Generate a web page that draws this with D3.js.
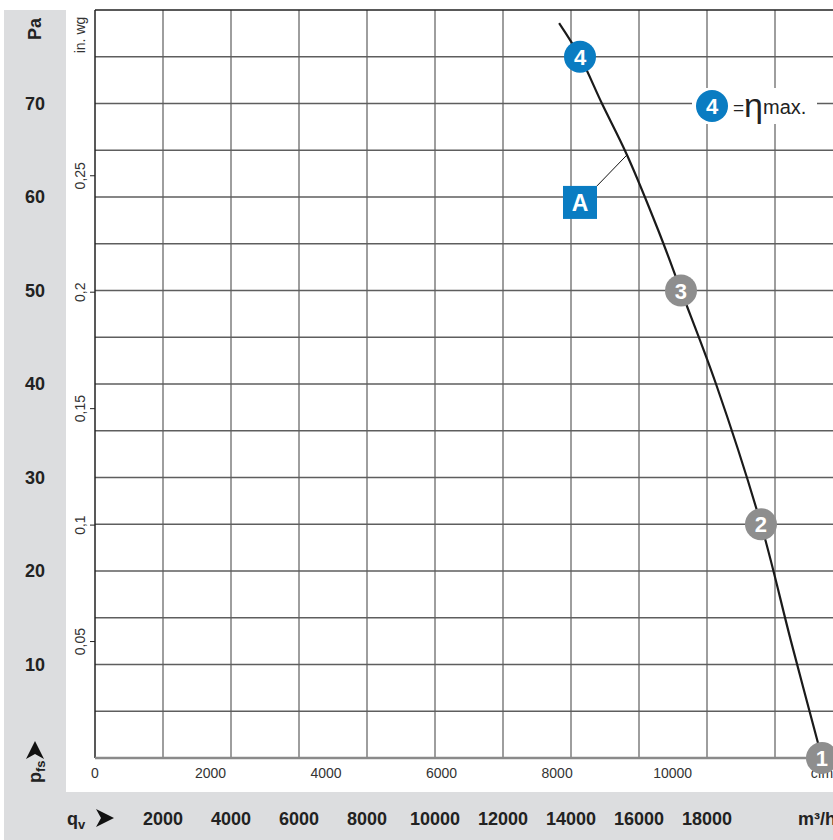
<!DOCTYPE html>
<html>
<head>
<meta charset="utf-8">
<script src="https://cdn.jsdelivr.net/npm/d3@7"></script>
<style>
  body { margin: 0; background: #fff; }
  svg { display: block; }
  text { font-family: "Liberation Sans Narrow", "Liberation Sans", Arial, sans-serif; }
</style>
</head>
<body>
<div id="chart"></div>
<script>
var svgWidth = 833;
var svgHeight = 840;

// fan curve (m³/h, Pa)
var flow = [13650, 14265, 14910, 15647, 16560, 17235, 18265, 19588, 20470, 21382];
var pressure = [78.6, 75.0, 70.0, 64.5, 56.5, 50.0, 40.0, 25.0, 12.5, 0];

// numbered operating points on the curve
var pointIds = ["4", "3", "2", "1"];
var pointFlow = [14265, 17235, 19588, 21382];
var pointPressure = [75, 50, 25, 0];

var paTicks = [10, 20, 30, 40, 50, 60, 70];
var inwgTicks = [0.05, 0.1, 0.15, 0.2, 0.25];
var cfmTicks = [0, 2000, 4000, 6000, 8000, 10000];
var m3hTicks = [2000, 4000, 6000, 8000, 10000, 12000, 14000, 16000, 18000];

var blue = "#0a7cc2";
var grey = "#8e8e8e";
var band = "#dcdddf";

var plot = { left: 95, top: 10, bottom: 758 };

var svg = d3.select("#chart")
	.append("svg")
	.attr("width", svgWidth)
	.attr("height", svgHeight);

var x = d3.scaleLinear().domain([0, 22000]).range([plot.left, plot.left + 0.034 * 22000]);
var y = d3.scaleLinear().domain([0, 80]).range([plot.bottom, plot.top]);
var xCfm = d3.scaleLinear().domain([0, 22000 / 1.699]).range(x.range());
var yInwg = d3.scaleLinear().domain([0, 80 / 249.09]).range(y.range());

// grey bands
svg.append("rect").attr("x", 4).attr("y", 10).attr("width", 62).attr("height", 782).attr("fill", band);
svg.append("rect").attr("x", 4).attr("y", 792).attr("width", svgWidth).attr("height", 48).attr("fill", band);

// grid
var grid = svg.append("g");
grid.selectAll(".v")
	.data(d3.range(2000, 22001, 2000))
	.enter().append("line")
	.attr("x1", d => x(d)).attr("x2", d => x(d))
	.attr("y1", plot.top).attr("y2", plot.bottom)
	.attr("stroke", "#6a6a6a").attr("stroke-width", 1.3);
grid.selectAll(".h")
	.data(d3.range(5, 80, 5))
	.enter().append("line")
	.attr("x1", plot.left).attr("x2", svgWidth)
	.attr("y1", d => y(d)).attr("y2", d => y(d))
	.attr("stroke", "#5e5e5e").attr("stroke-width", 1.3);

// frame
svg.append("line").attr("x1", plot.left).attr("x2", svgWidth).attr("y1", y(80)).attr("y2", y(80))
	.attr("stroke", "#222").attr("stroke-width", 1.5);
svg.append("line").attr("x1", plot.left).attr("x2", plot.left).attr("y1", plot.top).attr("y2", plot.bottom)
	.attr("stroke", "#222").attr("stroke-width", 1.5);
svg.append("line").attr("x1", plot.left).attr("x2", svgWidth).attr("y1", y(0)).attr("y2", y(0))
	.attr("stroke", "#8a8a8a").attr("stroke-width", 2.5);

// legend box (knocks out the grid behind it)
var legend = svg.append("g").attr("transform", "translate(712,106)");
legend.append("rect").attr("x", -20).attr("y", -18).attr("width", 125).attr("height", 36).attr("fill", "#fff");
legend.append("circle").attr("r", 16).attr("fill", blue);
legend.append("text").attr("y", 8).attr("text-anchor", "middle")
	.attr("fill", "#fff").attr("font-weight", "bold").attr("font-size", 22).text("4");
var legText = legend.append("text").attr("x", 21).attr("y", 8)
	.style("font-family", "'Liberation Sans', Arial, sans-serif").attr("fill", "#222");
legText.append("tspan").attr("font-size", 19).text("=");
legText.append("tspan").attr("font-size", 34).attr("dy", 3).text("η");
legText.append("tspan").attr("font-size", 20).attr("dy", -3).text("max.");

// curve
var line = d3.line()
	.x((d, i) => x(flow[i]))
	.y((d, i) => y(pressure[i]))
	.curve(d3.curveCatmullRom);
svg.append("path")
	.attr("d", line(flow))
	.attr("fill", "none")
	.attr("stroke", "#1a1a1a")
	.attr("stroke-width", 2.2);

// "A" callout
var ax = x(15647), ay = y(64.5);
svg.append("line").attr("x1", ax).attr("y1", ay).attr("x2", ax - 30).attr("y2", ay + 31)
	.attr("stroke", "#111").attr("stroke-width", 1);
svg.append("rect").attr("x", ax - 64).attr("y", ay + 31).attr("width", 34).attr("height", 33).attr("fill", blue);
svg.append("text").attr("x", ax - 47).attr("y", ay + 56).attr("text-anchor", "middle")
	.attr("fill", "#fff").attr("font-weight", "bold").attr("font-size", 23).text("A");

// cfm axis (drawn before the markers so marker 1 covers "cfm")
svg.selectAll(".cfm")
	.data(cfmTicks)
	.enter().append("text")
	.attr("x", d => xCfm(d)).attr("y", 778)
	.attr("text-anchor", "middle").attr("font-size", 14).attr("fill", "#333")
	.text(d => d);
svg.append("text").attr("x", 822).attr("y", 778).attr("text-anchor", "middle")
	.attr("font-size", 14).attr("fill", "#333").text("cfm");

// numbered markers
var marks = svg.selectAll(".mark")
	.data(pointIds)
	.enter().append("g")
	.attr("transform", (d, i) => `translate(${x(pointFlow[i])},${y(pointPressure[i])})`);
marks.append("circle").attr("r", 16).attr("fill", d => d === "4" ? blue : grey);
marks.append("text").attr("y", 8).attr("text-anchor", "middle")
	.attr("fill", "#fff").attr("font-weight", "bold").attr("font-size", 22).text(d => d);

// Pa labels
svg.selectAll(".pa")
	.data(paTicks)
	.enter().append("text")
	.attr("x", 35).attr("y", d => y(d) + 6)
	.attr("text-anchor", "middle")
	.attr("font-weight", "bold").attr("font-size", 18).attr("fill", "#222")
	.text(d => d);
svg.append("text").attr("transform", "translate(41,29) rotate(-90)")
	.attr("text-anchor", "middle").attr("font-weight", "bold").attr("font-size", 18).attr("fill", "#222")
	.text("Pa");

// in. wg axis
svg.selectAll(".inwgTick")
	.data(inwgTicks)
	.enter().append("line")
	.attr("x1", plot.left - 5).attr("x2", plot.left)
	.attr("y1", d => yInwg(d)).attr("y2", d => yInwg(d))
	.attr("stroke", "#222");
svg.selectAll(".inwg")
	.data(inwgTicks)
	.enter().append("text")
	.attr("transform", d => `translate(85,${yInwg(d)}) rotate(-90)`)
	.attr("text-anchor", "middle").attr("font-size", 14).attr("fill", "#333")
	.text(d => String(d).replace(".", ","));
svg.append("text").attr("transform", "translate(85,35) rotate(-90)")
	.attr("text-anchor", "middle").attr("font-size", 14).attr("fill", "#333")
	.text("in. wg");

// m³/h axis
svg.selectAll(".m3h")
	.data(m3hTicks)
	.enter().append("text")
	.attr("x", d => x(d)).attr("y", 825)
	.attr("text-anchor", "middle")
	.attr("font-weight", "bold").attr("font-size", 18).attr("fill", "#222")
	.text(d => d);
svg.append("text").attr("x", 798).attr("y", 825)
	.attr("font-weight", "bold").attr("font-size", 18).attr("fill", "#222")
	.text("m³/h");

// q_v and p_fs with arrows
var arrow = "M0,-9 L18,0 L0,9 L5,0 Z";
var qv = svg.append("text").attr("x", 67).attr("y", 825)
	.attr("font-weight", "bold").attr("font-size", 18).attr("fill", "#222");
qv.append("tspan").text("q");
qv.append("tspan").attr("font-size", 13).attr("dy", 4).text("v");
svg.append("path").attr("d", arrow).attr("transform", "translate(96,818)").attr("fill", "#111");

var pfs = svg.append("text").attr("transform", "translate(41,783) rotate(-90)")
	.attr("font-weight", "bold").attr("font-size", 18).attr("fill", "#222");
pfs.append("tspan").text("p");
pfs.append("tspan").attr("font-size", 13).attr("dy", 4).text("fs");
svg.append("path").attr("d", arrow).attr("transform", "translate(35,759) rotate(-90)").attr("fill", "#111");
</script>
</body>
</html>
